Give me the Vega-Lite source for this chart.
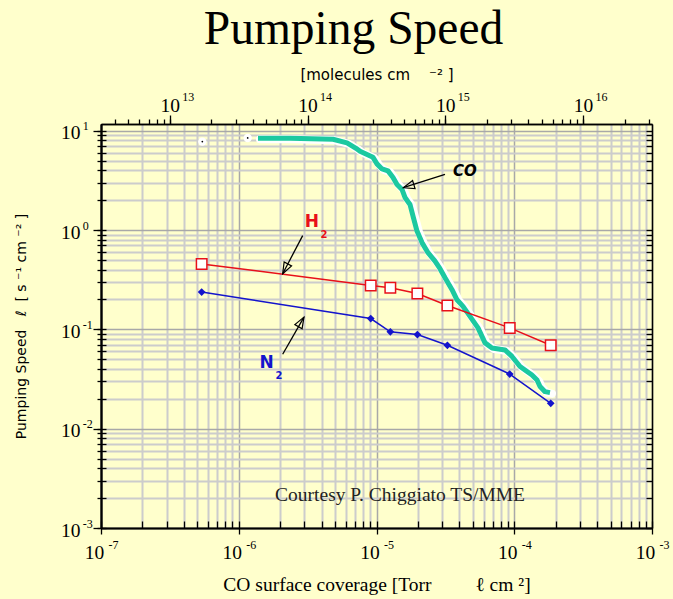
{
  "$schema": "https://vega.github.io/schema/vega-lite/v6.json",
  "autosize": {"type": "none"},
  "width": 551,
  "height": 404,
  "padding": {"left": 101, "top": 124, "right": 21, "bottom": 71},
  "background": "#FFFFCC",
  "title": {"text": "Pumping Speed", "font": "Liberation Serif", "fontSize": 47.5, "fontWeight": "normal", "color": "#000000", "anchor": "middle", "dx": -23, "offset": 14},
  "config": {
    "view": {"stroke": null, "fill": "#FFFFCC"},
    "axis": {
      "domainColor": "#000000", "domainWidth": 1.5,
      "tickColor": "#000000", "tickWidth": 1.3,
      "labelFont": "Liberation Serif", "labelFontSize": 19.5, "labelColor": "#000000",
      "titleColor": "#000000", "titleFontWeight": "normal",
      "labelFlush": false, "labelBound": false, "labelOverlap": false
    }
  },
  "datasets": {
    "curves": [
      {"series": "CO", "x": 1.379e-6, "y": 8.40},
      {"series": "CO", "x": 2.355e-6, "y": 8.40},
      {"series": "CO", "x": 4.833e-6, "y": 8.21},
      {"series": "CO", "x": 6.105e-6, "y": 7.56},
      {"series": "CO", "x": 7.10e-6, "y": 6.66},
      {"series": "CO", "x": 7.59e-6, "y": 6.21},
      {"series": "CO", "x": 9.43e-6, "y": 5.40},
      {"series": "CO", "x": 1.008e-5, "y": 4.64},
      {"series": "CO", "x": 1.096e-5, "y": 4.13},
      {"series": "CO", "x": 1.212e-5, "y": 3.945},
      {"series": "CO", "x": 1.318e-5, "y": 3.391},
      {"series": "CO", "x": 1.409e-5, "y": 2.881},
      {"series": "CO", "x": 1.531e-5, "y": 2.566},
      {"series": "CO", "x": 1.610e-5, "y": 2.130},
      {"series": "CO", "x": 1.750e-5, "y": 1.810},
      {"series": "CO", "x": 1.841e-5, "y": 1.385},
      {"series": "CO", "x": 1.968e-5, "y": 0.977},
      {"series": "CO", "x": 2.139e-5, "y": 0.748},
      {"series": "CO", "x": 2.365e-5, "y": 0.592},
      {"series": "CO", "x": 2.659e-5, "y": 0.486},
      {"series": "CO", "x": 2.891e-5, "y": 0.408},
      {"series": "CO", "x": 3.143e-5, "y": 0.331},
      {"series": "CO", "x": 3.534e-5, "y": 0.251},
      {"series": "CO", "x": 3.841e-5, "y": 0.1986},
      {"series": "CO", "x": 4.246e-5, "y": 0.1707},
      {"series": "CO", "x": 4.773e-5, "y": 0.1353},
      {"series": "CO", "x": 5.456e-5, "y": 0.1035},
      {"series": "CO", "x": 6.135e-5, "y": 0.0731},
      {"series": "CO", "x": 6.896e-5, "y": 0.0650},
      {"series": "CO", "x": 8.565e-5, "y": 0.0621},
      {"series": "CO", "x": 9.63e-5, "y": 0.0534},
      {"series": "CO", "x": 1.101e-4, "y": 0.0423},
      {"series": "CO", "x": 1.345e-4, "y": 0.0347},
      {"series": "CO", "x": 1.463e-4, "y": 0.0309},
      {"series": "CO", "x": 1.538e-4, "y": 0.0266},
      {"series": "CO", "x": 1.672e-4, "y": 0.0236},
      {"series": "CO", "x": 1.817e-4, "y": 0.0231},
      {"series": "CO_pts", "x": 5.44e-7, "y": 7.78},
      {"series": "CO_pts", "x": 1.161e-6, "y": 8.46},
      {"series": "H2", "x": 5.38e-7, "y": 0.456},
      {"series": "H2", "x": 9.08e-6, "y": 0.277},
      {"series": "H2", "x": 1.26e-5, "y": 0.262},
      {"series": "H2", "x": 1.98e-5, "y": 0.230},
      {"series": "H2", "x": 3.27e-5, "y": 0.174},
      {"series": "H2", "x": 9.27e-5, "y": 0.1035},
      {"series": "H2", "x": 1.84e-4, "y": 0.0692},
      {"series": "N2", "x": 5.38e-7, "y": 0.2375},
      {"series": "N2", "x": 9.08e-6, "y": 0.1286},
      {"series": "N2", "x": 1.26e-5, "y": 0.0944},
      {"series": "N2", "x": 1.98e-5, "y": 0.0886},
      {"series": "N2", "x": 3.27e-5, "y": 0.0692},
      {"series": "N2", "x": 9.27e-5, "y": 0.0355},
      {"series": "N2", "x": 1.84e-4, "y": 0.0180}
    ],
    "arrows": [
      {"id": "CO", "x": 3.143e-5, "y": 3.636, "x2": 1.565e-5, "y2": 2.669},
      {"id": "H2", "x": 2.911e-6, "y": 0.880, "x2": 2.084e-6, "y2": 0.3636},
      {"id": "N2", "x": 2.084e-6, "y": 0.0562, "x2": 2.975e-6, "y2": 0.1328}
    ],
    "tips": [
      {"id": "CO", "x": 1.565e-5, "y": 2.669},
      {"id": "H2", "x": 2.084e-6, "y": 0.3636},
      {"id": "N2", "x": 2.975e-6, "y": 0.1328}
    ],
    "notes": [
      {"id": "CO", "text": "CO", "x": 3.59e-5, "y": 3.93},
      {"id": "H", "text": "H", "x": 3.40e-6, "y": 1.219},
      {"id": "H2sub", "text": "2", "x": 4.16e-6, "y": 0.901},
      {"id": "N", "text": "N", "x": 1.595e-6, "y": 0.0464},
      {"id": "N2sub", "text": "2", "x": 1.96e-6, "y": 0.0339},
      {"id": "credit", "text": "Courtesy P. Chiggiato TS/MME", "x": 1.482e-5, "y": 0.00213}
    ],
    "frame": [
      {"m": 3.1623e12, "bx": 1e-7, "ly": 0.001},
      {"m": 3.1623e16, "bx": 1e-3, "ly": 10}
    ]
  },
  "resolve": {"scale": {"x": "independent", "y": "independent"}, "axis": {"x": "independent", "y": "independent"}},
  "layer": [
    {
      "encoding": {
        "x": {
          "field": "x", "type": "quantitative",
          "scale": {"type": "log", "domain": [1e-7, 1e-3], "nice": false},
          "axis": {
            "orient": "bottom",
            "title": "CO surface coverage [Torr\u00a0\u00a0\u00a0\u00a0\u00a0\u00a0\u00a0\u00a0\u00a0ℓ\u00a0cm\u00a0²]",
            "titleFont": "Liberation Serif", "titleFontSize": 19.5, "titlePadding": 14,
            "ticks": false, "labelPadding": 15, "labelOffset": -7,
            "labelExpr": "abs(log(datum.value)/LN10 - round(log(datum.value)/LN10)) < 0.001 ? '10' : ''",
            "grid": true,
            "gridColor": {"condition": {"test": "abs(log(datum.value)/LN10 - round(log(datum.value)/LN10)) < 0.001", "value": "#a8a8a8"}, "value": "#cccccc"},
            "gridWidth": {"condition": {"test": "abs(log(datum.value)/LN10 - round(log(datum.value)/LN10)) < 0.001", "value": 1.5}, "value": 2}
          }
        },
        "y": {
          "field": "y", "type": "quantitative",
          "scale": {"type": "log", "domain": [1e-3, 11.7], "nice": false},
          "axis": {
            "orient": "left",
            "title": "Pumping Speed\u00a0\u00a0\u00a0ℓ\u00a0\u00a0[\u00a0s\u00a0⁻¹\u00a0cm\u00a0⁻²\u00a0]",
            "titleFont": "DejaVu Sans", "titleFontSize": 14, "titlePadding": 32,
            "ticks": false, "labelPadding": 21, "labelOffset": 2,
            "labelExpr": "abs(log(datum.value)/LN10 - round(log(datum.value)/LN10)) < 0.001 ? '10' : ''",
            "grid": true,
            "gridColor": {"condition": {"test": "abs(log(datum.value)/LN10 - round(log(datum.value)/LN10)) < 0.001", "value": "#a8a8a8"}, "value": "#cccccc"},
            "gridWidth": {"condition": {"test": "abs(log(datum.value)/LN10 - round(log(datum.value)/LN10)) < 0.001", "value": 1.5}, "value": 2}
          }
        }
      },
      "layer": [
        {
          "data": {"name": "curves"},
          "transform": [{"filter": "datum.series === 'CO'"}],
          "mark": {"type": "line", "color": "#ffffff", "strokeWidth": 8, "xOffset": 2, "yOffset": 1, "strokeCap": "round", "strokeJoin": "round"}
        },
        {
          "data": {"name": "curves"},
          "transform": [{"filter": "datum.series === 'CO_pts'"}],
          "mark": {"type": "point", "shape": "circle", "filled": true, "color": "#ffffff", "size": 70, "opacity": 1}
        },
        {
          "data": {"name": "curves"},
          "transform": [{"filter": "datum.series === 'CO_pts'"}],
          "mark": {"type": "point", "shape": "circle", "filled": true, "color": "#000000", "size": 3, "opacity": 1}
        },
        {
          "data": {"name": "curves"},
          "transform": [{"filter": "datum.series === 'CO'"}],
          "mark": {"type": "line", "color": "#1cc9a0", "strokeWidth": 5, "strokeCap": "butt", "strokeJoin": "round"}
        },
        {
          "data": {"name": "curves"},
          "transform": [{"filter": "datum.series === 'H2'"}],
          "mark": {"type": "line", "color": "#e8101a", "strokeWidth": 1.5}
        },
        {
          "data": {"name": "curves"},
          "transform": [{"filter": "datum.series === 'H2'"}],
          "mark": {"type": "point", "shape": "square", "filled": true, "fill": "#ffffff", "stroke": "#e8101a", "strokeWidth": 1.5, "size": 110, "opacity": 1}
        },
        {
          "data": {"name": "curves"},
          "transform": [{"filter": "datum.series === 'N2'"}],
          "mark": {"type": "line", "color": "#1414cc", "strokeWidth": 1.5}
        },
        {
          "data": {"name": "curves"},
          "transform": [{"filter": "datum.series === 'N2'"}],
          "mark": {"type": "point", "shape": "diamond", "filled": true, "color": "#1414cc", "size": 60, "opacity": 1}
        },
        {
          "data": {"name": "arrows"},
          "mark": {"type": "rule", "color": "#000000", "strokeWidth": 1.3},
          "encoding": {"x2": {"field": "x2"}, "y2": {"field": "y2"}}
        },
        {
          "data": {"name": "tips"},
          "transform": [{"filter": "datum.id === 'CO'"}],
          "mark": {"type": "point", "shape": "M0,0L-0.38,1L0.38,1Z", "size": 484, "angle": 253, "filled": false, "stroke": "#000000", "strokeWidth": 1.2, "opacity": 1}
        },
        {
          "data": {"name": "tips"},
          "transform": [{"filter": "datum.id === 'H2'"}],
          "mark": {"type": "point", "shape": "M0,0L-0.38,1L0.38,1Z", "size": 484, "angle": 208, "filled": false, "stroke": "#000000", "strokeWidth": 1.2, "opacity": 1}
        },
        {
          "data": {"name": "tips"},
          "transform": [{"filter": "datum.id === 'N2'"}],
          "mark": {"type": "point", "shape": "M0,0L-0.38,1L0.38,1Z", "size": 484, "angle": 30, "filled": false, "stroke": "#000000", "strokeWidth": 1.2, "opacity": 1}
        },
        {
          "data": {"name": "notes"},
          "transform": [{"filter": "datum.id === 'CO'"}],
          "mark": {"type": "text", "align": "left", "baseline": "middle", "font": "DejaVu Sans", "fontSize": 15, "fontWeight": "bold", "fontStyle": "italic", "color": "#000000"},
          "encoding": {"text": {"field": "text"}}
        },
        {
          "data": {"name": "notes"},
          "transform": [{"filter": "datum.id === 'H'"}],
          "mark": {"type": "text", "align": "center", "baseline": "middle", "font": "DejaVu Sans", "fontSize": 17, "fontWeight": "bold", "color": "#e8101a"},
          "encoding": {"text": {"field": "text"}}
        },
        {
          "data": {"name": "notes"},
          "transform": [{"filter": "datum.id === 'H2sub'"}],
          "mark": {"type": "text", "align": "center", "baseline": "middle", "font": "DejaVu Sans", "fontSize": 10, "fontWeight": "bold", "color": "#e8101a"},
          "encoding": {"text": {"field": "text"}}
        },
        {
          "data": {"name": "notes"},
          "transform": [{"filter": "datum.id === 'N'"}],
          "mark": {"type": "text", "align": "center", "baseline": "middle", "font": "DejaVu Sans", "fontSize": 17, "fontWeight": "bold", "color": "#1414cc"},
          "encoding": {"text": {"field": "text"}}
        },
        {
          "data": {"name": "notes"},
          "transform": [{"filter": "datum.id === 'N2sub'"}],
          "mark": {"type": "text", "align": "center", "baseline": "middle", "font": "DejaVu Sans", "fontSize": 10, "fontWeight": "bold", "color": "#1414cc"},
          "encoding": {"text": {"field": "text"}}
        },
        {
          "data": {"name": "notes"},
          "transform": [{"filter": "datum.id === 'credit'"}],
          "mark": {"type": "text", "align": "center", "baseline": "middle", "font": "Liberation Serif", "fontSize": 19.5, "color": "#222222"},
          "encoding": {"text": {"field": "text"}}
        }
      ]
    },
    {
      "data": {"name": "frame"},
      "mark": {"type": "point", "opacity": 0},
      "encoding": {
        "x": {
          "field": "m", "type": "quantitative",
          "scale": {"type": "log", "domain": [3.1623e12, 3.1623e16], "nice": false},
          "axis": {
            "orient": "top",
            "title": "[molecules cm\u00a0\u00a0\u00a0\u00a0⁻²\u00a0]",
            "titleFont": "DejaVu Sans", "titleFontSize": 15, "titlePadding": 13,
            "tickSize": 5, "labelPadding": 4,
            "labelExpr": "abs(log(datum.value)/LN10 - round(log(datum.value)/LN10)) < 0.001 ? '10' : ''",
            "grid": false
          }
        },
        "y": {
          "field": "ly", "type": "quantitative",
          "scale": {"type": "log", "domain": [1e-3, 11.7], "nice": false},
          "axis": {"orient": "left", "title": null, "labels": false, "tickSize": 4, "grid": false}
        }
      }
    },
    {
      "data": {"name": "frame"},
      "mark": {"type": "point", "opacity": 0},
      "encoding": {
        "x": {
          "field": "m", "type": "quantitative",
          "scale": {"type": "log", "domain": [3.1623e12, 3.1623e16], "nice": false},
          "axis": {
            "orient": "top", "title": null, "tickSize": 9, "values": [1e13, 1e14, 1e15, 1e16], "grid": false,
            "labelExpr": "toString(round(log(datum.value)/LN10))",
            "labelFontSize": 12, "labelAlign": "left", "labelOffset": 12, "labelPadding": 11.5
          }
        },
        "y": {
          "field": "ly", "type": "quantitative",
          "scale": {"type": "log", "domain": [1e-3, 11.7], "nice": false},
          "axis": {
            "orient": "left", "title": null, "tickSize": 8, "values": [0.001, 0.01, 0.1, 1, 10], "grid": false,
            "labelExpr": "toString(round(log(datum.value)/LN10))",
            "labelFontSize": 12, "labelAlign": "left", "labelPadding": 10.7, "labelOffset": -5
          }
        }
      }
    },
    {
      "data": {"name": "frame"},
      "mark": {"type": "point", "opacity": 0},
      "encoding": {
        "x": {
          "field": "bx", "type": "quantitative",
          "scale": {"type": "log", "domain": [1e-7, 1e-3], "nice": false},
          "axis": {"orient": "bottom", "title": null, "labels": false, "tickSize": -7, "grid": false}
        },
        "y": {
          "field": "ly", "type": "quantitative",
          "scale": {"type": "log", "domain": [1e-3, 11.7], "nice": false},
          "axis": {"orient": "left", "title": null, "labels": false, "tickSize": -5, "grid": false}
        }
      }
    },
    {
      "data": {"name": "frame"},
      "mark": {"type": "point", "opacity": 0},
      "encoding": {
        "x": {
          "field": "bx", "type": "quantitative",
          "scale": {"type": "log", "domain": [1e-7, 1e-3], "nice": false},
          "axis": {
            "orient": "bottom", "title": null, "tickSize": 6, "values": [1e-7, 1e-6, 1e-5, 1e-4, 1e-3], "grid": false,
            "labelExpr": "toString(round(log(datum.value)/LN10))",
            "labelFontSize": 12, "labelAlign": "left", "labelOffset": 7, "labelPadding": 5.5
          }
        },
        "y": {
          "field": "ly", "type": "quantitative",
          "scale": {"type": "log", "domain": [1e-3, 11.7], "nice": false},
          "axis": {"orient": "right", "title": null, "labels": false, "tickSize": -6, "grid": false}
        }
      }
    }
  ]
}
